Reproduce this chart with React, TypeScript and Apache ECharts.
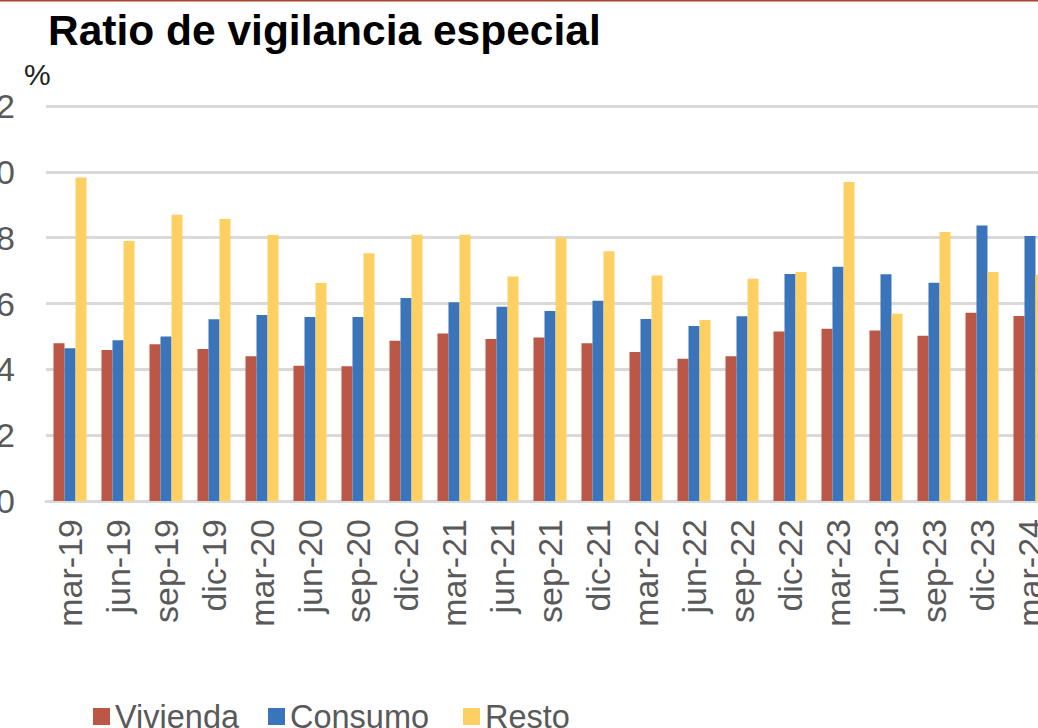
import React, { useEffect, useRef } from "react";
import * as echarts from "echarts";

const categories = [
  "mar-19", "jun-19", "sep-19", "dic-19",
  "mar-20", "jun-20", "sep-20", "dic-20",
  "mar-21", "jun-21", "sep-21", "dic-21",
  "mar-22", "jun-22", "sep-22", "dic-22",
  "mar-23", "jun-23", "sep-23", "dic-23",
  "mar-24",
];

const vivienda = [
  4.79, 4.59, 4.76, 4.62,
  4.40, 4.11, 4.09, 4.87,
  5.09, 4.92, 4.97, 4.79,
  4.53, 4.32, 4.40, 5.15,
  5.23, 5.18, 5.02, 5.72,
  5.62,
];

const consumo = [
  4.64, 4.88, 5.00, 5.52,
  5.65, 5.59, 5.59, 6.17,
  6.04, 5.90, 5.77, 6.08,
  5.53, 5.32, 5.61, 6.90,
  7.12, 6.89, 6.63, 8.37,
  8.05,
];

const resto = [
  9.83, 7.90, 8.70, 8.57,
  8.08, 6.62, 7.53, 8.09,
  8.09, 6.82, 8.00, 7.59,
  6.85, 5.50, 6.75, 6.96,
  9.69, 5.69, 8.17, 6.96,
  6.87,
];

const yTicks = { min: 0, max: 12, interval: 2 };

const seriesNames = ["Vivienda", "Consumo", "Resto"];
const colors = ["#BB5745", "#3A74BA", "#FED062"];

const OFFSET = 30; // chart div shifted left by this many px
const CHART_W = 1108;
const CHART_H = 728;

export default function App() {
  const ref = useRef<HTMLDivElement>(null);

  useEffect(() => {
    if (!ref.current) return;
    const chart = echarts.init(ref.current, undefined, { renderer: "svg" });
    const font = "'Liberation Sans', Arial, Helvetica, sans-serif";
    const legendLefts = [93, 268, 463];
    chart.setOption({
      animation: false,
      textStyle: { fontFamily: font },
      graphic: [
        {
          type: "rect",
          shape: { x: 0, y: 0, width: CHART_W, height: 1.5 },
          style: { fill: "#A8432F" },
        },
        {
          type: "text",
          x: 48 + OFFSET,
          y: 30,
          style: {
            text: "Ratio de vigilancia especial",
            fontSize: 42.5,
            fontWeight: "bold",
            fontFamily: font,
            fill: "#000000",
            verticalAlign: "middle",
            align: "left",
          },
        },
        {
          type: "text",
          x: 24 + OFFSET,
          y: 74,
          style: {
            text: "%",
            fontSize: 30,
            fontFamily: font,
            fill: "#222222",
            verticalAlign: "middle",
            align: "left",
          },
        },
      ],
      legend: seriesNames.map((name, i) => ({
        data: [name],
        left: legendLefts[i] + OFFSET,
        top: 700,
        padding: 0,
        itemWidth: 17,
        itemHeight: 17,
        icon: "rect",
        selectedMode: false,
        textStyle: { fontSize: 32.5, color: "#595959", fontFamily: font },
      })),
      grid: {
        left: 46 + OFFSET,
        right: CHART_W - (1054 + OFFSET),
        top: 106,
        bottom: CHART_H - 501,
        containLabel: false,
      },
      xAxis: {
        type: "category",
        data: categories,
        axisTick: { show: false },
        axisLine: { show: true, lineStyle: { color: "#D9D9D9", width: 3 } },
        axisLabel: {
          rotate: 90,
          fontSize: 34,
          color: "#595959",
          margin: 18,
          interval: 0,
          fontFamily: font,
        },
      },
      yAxis: {
        type: "value",
        min: yTicks.min,
        max: yTicks.max,
        interval: yTicks.interval,
        axisLine: { show: false },
        axisTick: { show: false },
        axisLabel: { fontSize: 34, color: "#595959", margin: 31, fontFamily: font },
        splitLine: { show: true, lineStyle: { color: "#D9D9D9", width: 3 } },
      },
      series: [vivienda, consumo, resto].map((data, i) => ({
        name: seriesNames[i],
        type: "bar",
        data,
        barWidth: 11,
        barGap: "0%",
        itemStyle: { color: colors[i] },
      })),
    });
    return () => chart.dispose();
  }, []);

  return (
    <div
      style={{
        position: "fixed",
        left: 0,
        top: 0,
        width: 1038,
        height: 728,
        overflow: "hidden",
        background: "#ffffff",
      }}
    >
      <div
        ref={ref}
        style={{
          position: "absolute",
          left: -OFFSET,
          top: 0,
          width: CHART_W,
          height: CHART_H,
        }}
      />
    </div>
  );
}
